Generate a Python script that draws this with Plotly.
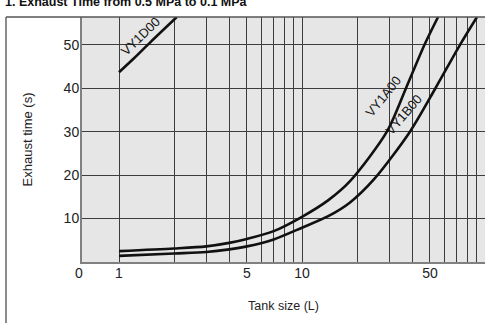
import math
import plotly.graph_objects as go

# ---- data ----
tank_a = [1, 2, 3, 4, 5, 7, 10, 14, 18.3, 29.1, 37.0, 46.7, 55.4]
time_a = [2.5, 3.1, 3.6, 4.4, 5.3, 7.1, 10.4, 14.3, 18.6, 30, 40, 50, 56.4]

tank_b = [1, 2, 3, 4, 5, 7, 10, 14, 18.3, 24.7, 38.9, 53.6, 73.0, 90.4]
time_b = [1.4, 1.95, 2.3, 2.9, 3.6, 5.2, 7.9, 10.6, 13.7, 19, 30, 40, 50, 56.4]

tank_d = [1, 1.2, 1.5, 2.07]
time_d = [43.7, 46.8, 50.8, 56.4]

series_names = ["VY1A00", "VY1B00", "VY1D00"]
label_pos = {"VY1A00": (27.7, 38.2, -51), "VY1B00": (36.1, 33.9, -49), "VY1D00": (1.303, 52.0, -44)}

x_tickvals = [1, 5, 10, 50]
x_ticktext = ["1", "5", "10", "50"]
x_minor = [2, 3, 4, 6, 7, 8, 9, 20, 30, 40, 60, 70, 80, 90, 100]
y_tickvals = [10, 20, 30, 40, 50]

title_text = "1. Exhaust Time from 0.5 MPa to 0.1 MPa"
x_title = "Tank size (L)"
y_title = "Exhaust time (s)"

FONT = "Liberation Sans, Arial, Helvetica, sans-serif"
GRID = "#3c3c3c"

fig = go.Figure()
for xs, ys in [(tank_a, time_a), (tank_b, time_b), (tank_d, time_d)]:
    fig.add_trace(go.Scatter(x=xs, y=ys, mode="lines",
                             line=dict(color="#111111", width=2.6, shape="spline", smoothing=0.8),
                             showlegend=False, hoverinfo="skip"))

for name in series_names:
    lx, ly, ang = label_pos[name]
    fig.add_annotation(x=math.log10(lx), y=ly, xref="x", yref="y", text=name,
                       showarrow=False, textangle=ang,
                       font=dict(family=FONT, size=13, color="#111111"))

xmin_log = -0.2022
fig.update_layout(
    width=485, height=323,
    margin=dict(l=82, r=0, t=17, b=61),
    paper_bgcolor="white",
    plot_bgcolor="#e6e6e6",
    font=dict(family=FONT, size=14, color="#222222"),
    xaxis=dict(type="log", range=[xmin_log, 2.0], tickvals=x_tickvals, ticktext=x_ticktext,
               automargin=False,
               showgrid=True, gridcolor=GRID, gridwidth=1,
               minor=dict(tickvals=x_minor, showgrid=True, gridcolor=GRID, gridwidth=1, ticks=""),
               ticks="", showline=True, linecolor="#808080", linewidth=2,
               zeroline=False, tickfont=dict(size=14, color="#222222"), ticklabelstandoff=-3,
               title=dict(text=x_title, font=dict(size=12.5, color="#222222"), standoff=21)),
    yaxis=dict(range=[0, 56.4], tickvals=y_tickvals, showgrid=True, gridcolor=GRID, gridwidth=1,
               automargin=False,
               ticks="", showline=True, linecolor="#808080", linewidth=2, zeroline=False,
               tickfont=dict(size=14, color="#222222"), ticklabelstandoff=-2,
               title=dict(text=y_title, font=dict(size=13, color="#222222"), standoff=28)),
)

# "0" at the origin corner
fig.add_annotation(x=-0.0074, y=-0.045, xref="paper", yref="paper", text="0", showarrow=False,
                   xanchor="center", yanchor="middle", font=dict(size=14, color="#222222"))

# title (cut by the top edge in the reference)
fig.add_annotation(x=-0.195, y=1.061, xref="paper", yref="paper", text="<b>" + title_text + "</b>",
                   showarrow=False, xanchor="left", yanchor="middle",
                   font=dict(family=FONT, size=12.5, color="#111111"))

# outer frame lines
fig.add_shape(type="line", xref="paper", yref="paper", x0=-0.1886, x1=1.0, y0=1.0, y1=1.0,
              line=dict(color="#555555", width=1.5))
fig.add_shape(type="line", xref="paper", yref="paper", x0=-0.1886, x1=-0.1886, y0=1.0, y1=-0.3,
              line=dict(color="#666666", width=1.5))

fig.write_html("out.html", config={"displayModeBar": False},
               post_script="document.body.style.margin='0';document.body.style.overflow='hidden';")
